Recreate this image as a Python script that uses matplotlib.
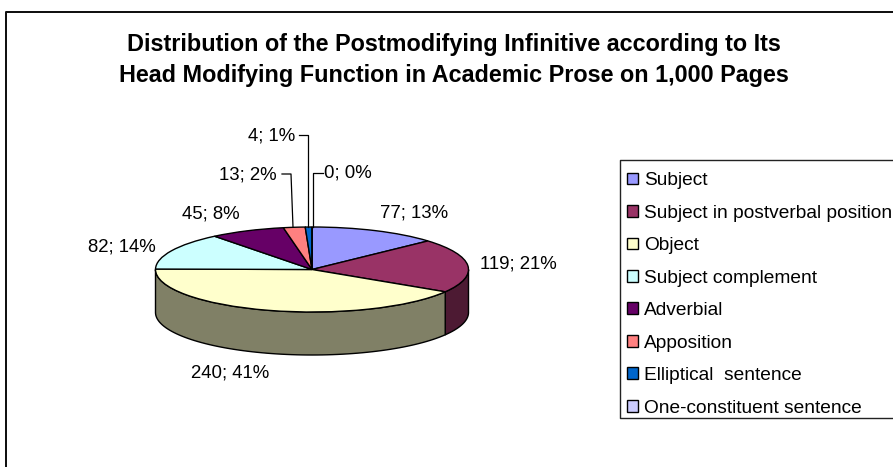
import matplotlib
matplotlib.use("Agg")
import matplotlib.pyplot as plt
import numpy as np

W, H = 893, 467

categories = ["Subject", "Subject in postverbal position", "Object",
              "Subject complement", "Adverbial", "Apposition",
              "Elliptical  sentence", "One-constituent sentence"]
values = [77, 119, 240, 82, 45, 13, 4, 0]
percents = [13, 21, 41, 14, 8, 2, 1, 0]
colors = ["#9999FF", "#993366", "#FFFFCC", "#CCFFFF",
          "#660066", "#FF8080", "#0066CC", "#CCCCFF"]
title = ("Distribution of the Postmodifying Infinitive according to Its\n"
         "Head Modifying Function in Academic Prose on 1,000 Pages")

plt.rcParams["font.family"] = ["Liberation Sans", "DejaVu Sans"]

fig = plt.figure(figsize=(W / 100, H / 100), dpi=100)

# page layer in pixel coordinates, for the frame and the text
page = fig.add_axes([0, 0, 1, 1], zorder=0)
page.set_xlim(0, W)
page.set_ylim(H, 0)
page.axis("off")
page.plot([6, 6, W + 5], [H + 5, 12, 12], color="#111111", lw=1.44, clip_on=False)
page.text(454, 60, title, ha="center", va="center", fontsize=16.8,
          fontweight="bold", linespacing=1.47)

# legend box runs off the right edge, as in the source
page.plot([W + 5, 620, 620, W + 5], [160, 160, 418, 418], color="#222222", lw=1.0)

# pie axes: the unit circle is squashed to an ellipse
cx, cy, rx, ry, depth = 312, 269.5, 156.5, 42.5, 43
pie_ax = fig.add_axes([(cx - rx) / W, 1 - (cy + ry) / H, 2 * rx / W, 2 * ry / H], zorder=1)
wedges, _ = pie_ax.pie(values, colors=colors, startangle=90, counterclock=False,
                       wedgeprops=dict(edgecolor="black", linewidth=1.0))
pie_ax.set_aspect("auto")
pie_ax.set_xlim(-1, 1)
pie_ax.set_ylim(-1, 1)
for w in wedges:
    w.set_clip_on(False)

# side wall of the front half, from the same values
d = depth / ry
fractions = np.cumsum([0] + values) / sum(values)
for i in range(len(values)):
    a0 = np.pi / 2 - 2 * np.pi * fractions[i]
    a1 = np.pi / 2 - 2 * np.pi * fractions[i + 1]
    # keep only the part below the centre line
    lo = np.clip(a1, -np.pi, 0)
    hi = np.clip(a0, -np.pi, 0)
    if hi - lo <= 0:
        continue
    t = np.linspace(hi, lo, 80)
    xs = np.r_[np.cos(t), np.cos(t[::-1])]
    ys = np.r_[np.sin(t), np.sin(t[::-1]) - d]
    side = tuple(c * 0.5 for c in matplotlib.colors.to_rgb(colors[i]))
    pie_ax.fill(xs, ys, facecolor=side, edgecolor="black", linewidth=1.0,
                clip_on=False, zorder=0)

# data labels
label_pos = [(414, 213), (518, 264), (230, 373), (122, 247),
             (211, 214), (248, 175), (272, 136), (348, 173)]
for i, (x, y) in enumerate(label_pos):
    page.text(x, y, f"{values[i]}; {percents[i]}%", ha="center", va="center",
              fontsize=13.4, zorder=3)

# leader lines for the small slices
leaders = [([282, 291, 293], [174, 174, 227]),
           ([299, 308, 308], [135, 135, 227]),
           ([323, 313, 313], [173, 173, 227])]
leader_ax = fig.add_axes([0, 0, 1, 1], zorder=2)
leader_ax.set_xlim(0, W)
leader_ax.set_ylim(H, 0)
leader_ax.axis("off")
for xs, ys in leaders:
    leader_ax.plot(xs, ys, color="black", lw=0.9)

# legend
leg = fig.legend(handles=wedges, labels=categories, loc="upper left",
                 bbox_to_anchor=(620 / W, 1 - 165 / H), borderaxespad=0,
                 fontsize=13.75, frameon=False, handlelength=0.58, handleheight=0.58,
                 handletextpad=0.3, labelspacing=0.81, borderpad=0.38)

fig.savefig("out.png", dpi=100)
